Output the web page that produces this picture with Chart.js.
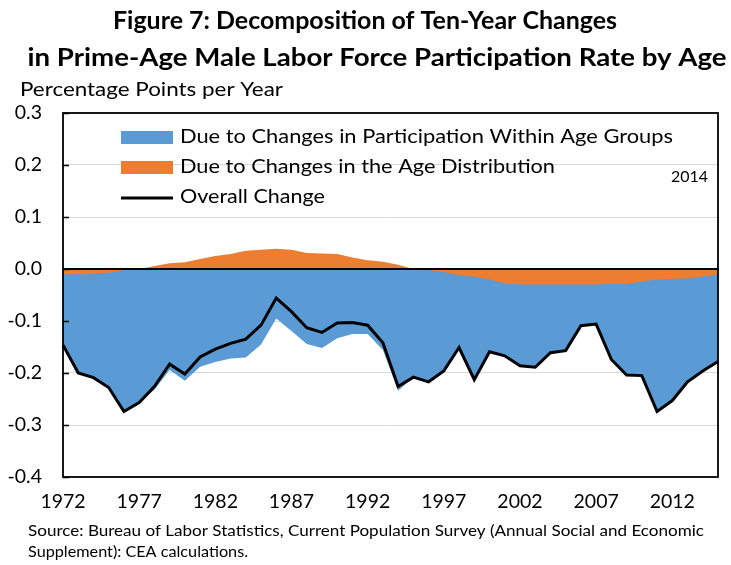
<!DOCTYPE html>
<html>
<head>
<meta charset="utf-8">
<title>Figure 7</title>
<script src="https://cdn.jsdelivr.net/npm/chart.js@4"></script>
<style>
  html, body { margin: 0; padding: 0; background: #fff; }
  canvas { display: block; }
</style>
</head>
<body>
<canvas id="fig7" width="731" height="565"></canvas>
<script>
// Ten-year change decomposition, percentage points per year

const years = [];
for (let y = 1972; y <= 2015; y++) years.push(String(y));

// Due to changes in the age distribution
const ageDist = [
  -0.010, -0.010, -0.009, -0.007, -0.002, 0.000, 0.006, 0.011, 0.013, 0.019,
   0.025,  0.029,  0.035,  0.037,  0.039, 0.037, 0.031, 0.030, 0.029, 0.022,
   0.017,  0.014,  0.008,  0.000, -0.002, -0.006, -0.012, -0.015, -0.020, -0.028,
  -0.030, -0.030, -0.030, -0.030, -0.030, -0.030, -0.029, -0.029, -0.024, -0.020,
  -0.019, -0.018, -0.015, -0.010
];

// Due to changes in participation within age groups
const withinGroups = [
  -0.136, -0.190, -0.200, -0.221, -0.272, -0.257, -0.232, -0.194, -0.215, -0.188,
  -0.179, -0.172, -0.170, -0.145, -0.095, -0.119, -0.144, -0.152, -0.133, -0.125,
  -0.125, -0.156, -0.234, -0.208, -0.215, -0.190, -0.139, -0.198, -0.139, -0.139,
  -0.156, -0.159, -0.131, -0.127, -0.079, -0.076, -0.145, -0.175, -0.181, -0.254,
  -0.234, -0.199, -0.181, -0.168
];

// Overall change
const overall = [
  -0.146, -0.200, -0.209, -0.228, -0.274, -0.257, -0.226, -0.183, -0.202, -0.169,
  -0.154, -0.143, -0.135, -0.108, -0.056, -0.082, -0.113, -0.122, -0.104, -0.103,
  -0.108, -0.142, -0.226, -0.208, -0.217, -0.196, -0.151, -0.213, -0.159, -0.167,
  -0.186, -0.189, -0.161, -0.157, -0.109, -0.106, -0.174, -0.204, -0.205, -0.274,
  -0.253, -0.217, -0.196, -0.178
];

const yTicks = [-0.4, -0.3, -0.2, -0.1, 0.0, 0.1, 0.2, 0.3];
const labelEvery = 5;

const BLUE = '#5B9BD5';
const ORANGE = '#ED7D31';
const FONT = 'Lato, "Open Sans", sans-serif';

// draw text squeezed/stretched to a given width (Calibri-ish metrics)
function fitText(ctx, text, x, y, width, font, align) {
  ctx.save();
  ctx.font = font;
  ctx.textBaseline = 'middle';
  ctx.textAlign = 'left';
  const w = ctx.measureText(text).width;
  const left = align === 'center' ? x - width / 2 : x;
  ctx.translate(left, y);
  ctx.scale(width / w, 1);
  ctx.fillStyle = '#000';
  ctx.fillText(text, 0, 0);
  ctx.restore();
}

const decor = {
  id: 'decor',
  afterDatasetsDraw(chart) {
    const { ctx, chartArea: a, scales } = chart;
    const y = scales.y;
    ctx.save();
    // zero line
    const y0 = y.getPixelForValue(0);
    ctx.strokeStyle = '#000';
    ctx.lineWidth = 2;
    ctx.beginPath();
    ctx.moveTo(a.left, y0);
    ctx.lineTo(a.right, y0);
    ctx.stroke();
    // inner tick marks on value axis
    ctx.lineWidth = 1.5;
    yTicks.forEach(v => {
      const py = Math.round(y.getPixelForValue(v)) + 0.5;
      ctx.beginPath();
      ctx.moveTo(a.left, py);
      ctx.lineTo(a.left + 6, py);
      ctx.stroke();
    });
    // plot box
    ctx.lineWidth = 1.8;
    ctx.strokeRect(a.left, a.top, a.right - a.left, a.bottom - a.top);
    ctx.restore();
  },
  afterDraw(chart) {
    const ctx = chart.ctx;
    // titles
    fitText(ctx, 'Figure 7: Decomposition of Ten-Year Changes', 365, 21, 504, 'bold 24px ' + FONT, 'center');
    fitText(ctx, 'in Prime-Age Male Labor Force Participation Rate by Age', 377, 58, 699, 'bold 24px ' + FONT, 'center');
    fitText(ctx, 'Percentage Points per Year', 20, 90, 263, '19.5px ' + FONT);

    // legend
    ctx.save();
    ctx.fillStyle = BLUE;
    ctx.fillRect(121, 131, 52, 13);
    ctx.fillStyle = ORANGE;
    ctx.fillRect(121, 161, 52, 13);
    ctx.strokeStyle = '#000';
    ctx.lineWidth = 3;
    ctx.beginPath();
    ctx.moveTo(121, 198);
    ctx.lineTo(173, 198);
    ctx.stroke();
    ctx.restore();
    fitText(ctx, 'Due to Changes in Participation Within Age Groups', 180, 137, 493, '19.5px ' + FONT);
    fitText(ctx, 'Due to Changes in the Age Distribution', 180, 167, 375, '19.5px ' + FONT);
    fitText(ctx, 'Overall Change', 180, 197, 145, '19.5px ' + FONT);
    fitText(ctx, '2014', 671, 177, 37, '15px ' + FONT);

    // source note
    fitText(ctx, 'Source: Bureau of Labor Statistics, Current Population Survey (Annual Social and Economic', 28, 531, 676, '15px ' + FONT);
    fitText(ctx, 'Supplement): CEA calculations.', 28, 552, 220, '15px ' + FONT);
  }
};

new Chart(document.getElementById('fig7'), {
  type: 'line',
  data: {
    labels: years,
    datasets: [
      {
        label: 'Overall Change',
        data: overall,
        stack: 'total',
        order: 0,
        borderColor: '#000',
        borderWidth: 3,
        pointRadius: 0,
        fill: false,
        tension: 0
      },
      {
        label: 'Due to Changes in the Age Distribution',
        data: ageDist,
        stack: 'parts',
        order: 1,
        backgroundColor: ORANGE,
        borderWidth: 0,
        pointRadius: 0,
        fill: 'origin',
        tension: 0
      },
      {
        label: 'Due to Changes in Participation Within Age Groups',
        data: withinGroups,
        stack: 'parts',
        order: 2,
        backgroundColor: BLUE,
        borderWidth: 0,
        pointRadius: 0,
        fill: 'origin',
        tension: 0
      }
    ]
  },
  options: {
    responsive: false,
    devicePixelRatio: 1,
    animation: false,
    layout: { padding: { top: 113, right: 4, left: 0, bottom: 0 } },
    plugins: {
      legend: { display: false },
      title: { display: false },
      tooltip: { enabled: false }
    },
    scales: {
      x: {
        type: 'category',
        offset: false,
        grid: { display: false, drawTicks: false },
        border: { display: false },
        ticks: {
          autoSkip: false,
          maxRotation: 0,
          padding: 13,
          color: '#000',
          font: { family: FONT, size: 19.5 },
          callback: (v, i) => (i % labelEvery === 0 ? years[i] : '')
        },
        afterFit: s => { s.height = 88; }
      },
      y: {
        stacked: true,
        min: -0.4,
        max: 0.3,
        grid: {
          drawTicks: false,
          color: ctx => {
            const v = ctx.tick ? ctx.tick.value : 0;
            if (Math.abs(v) < 1e-9 || Math.abs(v - 0.3) < 1e-9 || Math.abs(v + 0.4) < 1e-9) return 'rgba(0,0,0,0)';
            return '#d9d9d9';
          },
          lineWidth: 1
        },
        border: { display: false },
        afterBuildTicks: s => { s.ticks = yTicks.map(v => ({ value: v })); },
        ticks: {
          padding: 21,
          color: '#000',
          font: { family: FONT, size: 19.5 },
          callback: v => (Math.abs(v) < 1e-9 ? '0.0' : v.toFixed(1))
        },
        afterFit: s => { s.width = 63; }
      }
    }
  },
  plugins: [decor]
});
</script>
</body>
</html>
